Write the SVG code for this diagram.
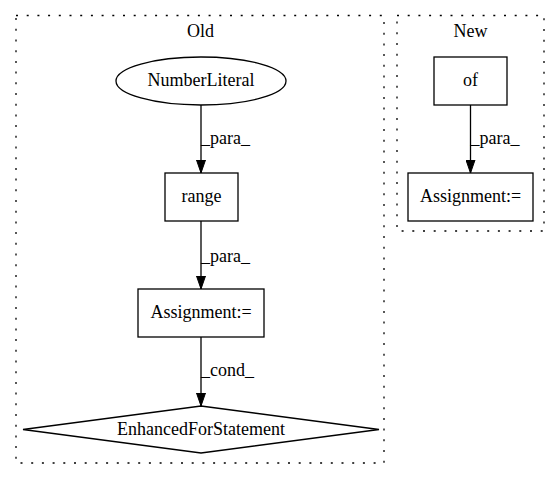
<svg xmlns="http://www.w3.org/2000/svg" width="560" height="480" viewBox="0 0 560 480">
<defs>
<marker id="arr" markerWidth="14" markerHeight="10" refX="13.5" refY="5" orient="auto" markerUnits="userSpaceOnUse">
<path d="M0.5,0.5 L13.5,5 L0.5,9.5 Z" fill="#000" stroke="#000" stroke-width="1"/>
</marker>
</defs>
<style>
text{font-family:"Liberation Serif","Times New Roman",Times,serif;font-size:18px;fill:#000}
.c{text-anchor:middle}
.node{fill:#fff;stroke:#000;stroke-width:1.3}
.cluster{fill:none;stroke:#000;stroke-width:1.3;stroke-dasharray:2,8.7}
.edge{stroke:#000;stroke-width:1.3;fill:none;marker-end:url(#arr)}
</style>
<rect width="560" height="480" fill="#fff"/>
<g font-family="Liberation Serif, Times New Roman, serif" font-size="18">
<g id="cluster_old">
<rect class="cluster" x="16" y="15.5" width="368" height="447.5"/>
<text class="c" x="200.5" y="36.5">Old</text>
</g>
<g id="cluster_new">
<rect class="cluster" x="397" y="15.5" width="147" height="215.5"/>
<text class="c" x="470.5" y="36.5">New</text>
</g>
<g id="n_numberliteral">
<ellipse class="node" cx="201" cy="81" rx="85" ry="24"/>
<text class="c" x="201" y="86.3">NumberLiteral</text>
</g>
<g id="n_range">
<rect class="node" x="165" y="173" width="73" height="48"/>
<text class="c" x="201.5" y="202.3">range</text>
</g>
<g id="n_assignment_old">
<rect class="node" x="138" y="289" width="126" height="48"/>
<text class="c" x="201" y="318.3">Assignment:=</text>
</g>
<g id="n_enhancedfor">
<polygon class="node" points="201,406 379,429.5 201,453 23,429.5"/>
<text class="c" x="201" y="434.8">EnhancedForStatement</text>
</g>
<g id="n_of">
<rect class="node" x="434" y="57" width="73" height="48"/>
<text class="c" x="470.5" y="86.3">of</text>
</g>
<g id="n_assignment_new">
<rect class="node" x="408" y="173" width="125" height="48"/>
<text class="c" x="470.5" y="202.3">Assignment:=</text>
</g>
<g id="connectors">
<line class="edge" x1="201" y1="105" x2="201" y2="173"/>
<text x="201" y="144">_para_</text>
<line class="edge" x1="201" y1="221" x2="201" y2="289"/>
<text x="201" y="262">_para_</text>
<line class="edge" x1="201" y1="337" x2="201" y2="406"/>
<text x="201" y="376">_cond_</text>
<line class="edge" x1="470.5" y1="105" x2="470.5" y2="173"/>
<text x="470.5" y="144">_para_</text>
</g>
</g>
</svg>
